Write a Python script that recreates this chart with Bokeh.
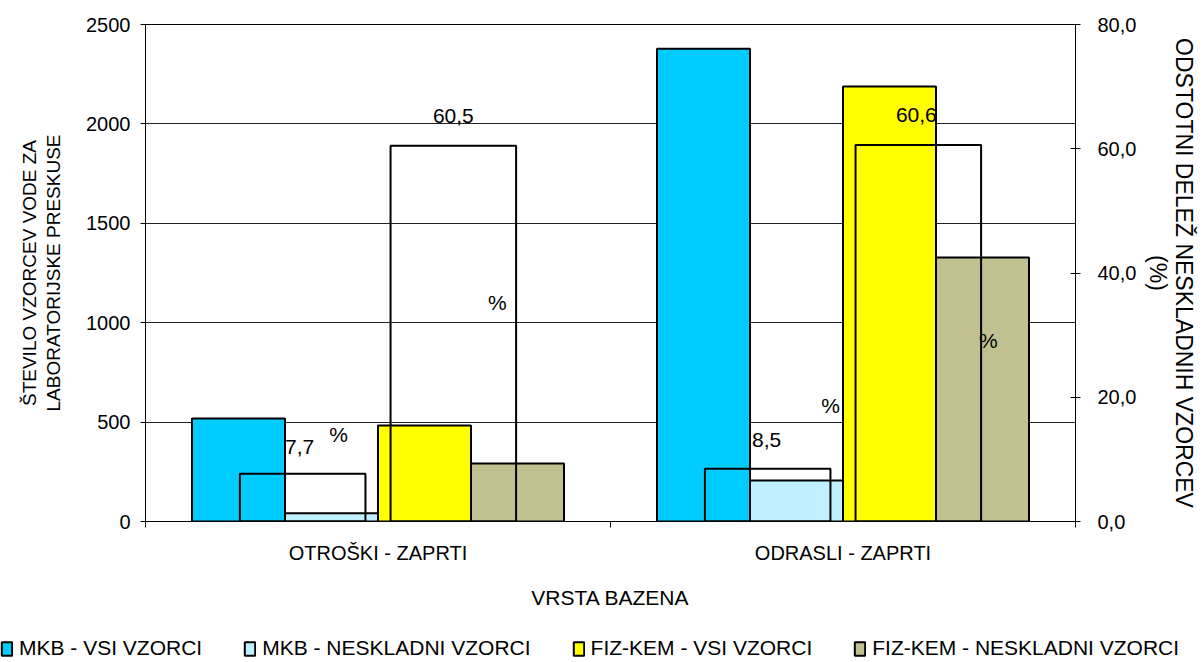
from bokeh.plotting import figure
from bokeh.models import Range1d, LinearAxis, FixedTicker, Legend, LegendItem
from bokeh.core.properties import value
from bokeh.embed import file_html
from bokeh.resources import INLINE

# ---------------- data ----------------
categories = ["OTROŠKI - ZAPRTI", "ODRASLI - ZAPRTI"]
mkb_all = [518, 2378]
mkb_bad = [42, 206]
fiz_all = [483, 2188]
fiz_bad = [292, 1328]
mkb_pct = [7.7, 8.5]
fiz_pct = [60.5, 60.6]
series_names = ["MKB - VSI VZORCI", "MKB - NESKLADNI VZORCI",
                "FIZ-KEM - VSI VZORCI", "FIZ-KEM - NESKLADNI VZORCI"]
left_ticks = [0, 500, 1000, 1500, 2000, 2500]
right_ticks = [0, 20, 40, 60, 80]
x_title = "VRSTA BAZENA"
left_title = "ŠTEVILO VZORCEV VODE ZA\nLABORATORIJSKE PRESKUSE"
right_title = "ODSTOTNI DELEŽ NESKLADNIH VZORCEV\n(%)"

# ---------------- style ----------------
FONT = "Liberation Sans"
colors = ["#00CCFF", "#C0F0FF", "#FFFF00", "#C0C090"]
bar_offsets = [-0.3, -0.1, 0.1, 0.3]
bar_width = 0.2
pct_offsets = [-0.162, 0.162]
pct_width = 0.27
# pixel offsets of the value labels and of the separate "%" labels (per series, per category)
val_label_dx = [[-3, -1], [0, -2]]
val_label_dy = [[-27, -29], [-30, -30]]
pc_label_dx = [[36, 63], [44, 70]]
pc_label_dy = [[-39, -63], [157, 195]]

n = len(categories)
W, H, LH = 1200, 636, 24
p = figure(width=W, height=H,
           x_range=Range1d(0, n), y_range=Range1d(left_ticks[0], left_ticks[-1]),
           output_backend="svg", toolbar_location=None,
           min_border_left=145, min_border_right=113,
           min_border_top=24, min_border_bottom=H - 24 - 497)
p.extra_y_ranges = {"pct": Range1d(right_ticks[0], right_ticks[-1])}
p.background_fill_color = "white"
p.border_fill_color = "white"
p.outline_line_color = "black"
p.outline_line_width = 1

# x axis
xa = p.xaxis[0]
xa.ticker = FixedTicker(ticks=[i + 0.5 for i in range(n)], minor_ticks=list(range(n + 1)))
xa.major_label_overrides = {i + 0.5: c for i, c in enumerate(categories)}
xa.major_tick_out = 0
xa.major_tick_in = 0
xa.minor_tick_out = 6
xa.minor_tick_in = 0
xa.minor_tick_line_color = "black"
xa.axis_line_color = "black"
xa.major_label_text_font = FONT
xa.major_label_text_font_size = "20px"
xa.major_label_text_color = "black"
xa.major_label_standoff = 14
xa.axis_label = x_title
xa.axis_label_text_font = FONT
xa.axis_label_text_font_size = "21px"
xa.axis_label_text_font_style = "normal"
xa.axis_label_text_color = "black"
xa.axis_label_standoff = 19

# left axis
ya = p.yaxis[0]
ya.ticker = FixedTicker(ticks=left_ticks, minor_ticks=[])
ya.major_tick_out = 5
ya.major_tick_in = 0
ya.major_tick_line_color = "black"
ya.axis_line_color = "black"
ya.major_label_text_font = FONT
ya.major_label_text_font_size = "20px"
ya.major_label_text_color = "black"
ya.major_label_standoff = 10
ya.axis_label = left_title
ya.axis_label_text_font = FONT
ya.axis_label_text_font_size = "19px"
ya.axis_label_text_font_style = "normal"
ya.axis_label_text_color = "black"
ya.axis_label_text_line_height = 1.15
ya.axis_label_standoff = 19

# right axis
ra = LinearAxis(y_range_name="pct",
                ticker=FixedTicker(ticks=right_ticks, minor_ticks=[]),
                major_label_overrides={t: f"{t:.1f}".replace(".", ",") for t in right_ticks})
ra.major_tick_out = 5
ra.major_tick_in = 5
ra.major_tick_line_color = "black"
ra.axis_line_color = "black"
ra.major_label_text_font = FONT
ra.major_label_text_font_size = "20px"
ra.major_label_text_color = "black"
ra.major_label_standoff = 17
ra.axis_label = right_title
ra.axis_label_text_font = FONT
ra.axis_label_text_font_size = "23px"
ra.axis_label_text_font_style = "normal"
ra.axis_label_text_color = "black"
ra.axis_label_text_line_height = 1.0
ra.axis_label_standoff = 6
p.add_layout(ra, "right")

# grid
p.xgrid.visible = False
p.ygrid.ticker = FixedTicker(ticks=left_ticks, minor_ticks=[])
p.ygrid.grid_line_color = "#222222"
p.ygrid.grid_line_width = 1

# count bars
vals = [mkb_all, mkb_bad, fiz_all, fiz_bad]
for k in range(4):
    xs = [i + 0.5 + bar_offsets[k] for i in range(n)]
    p.vbar(x=xs, top=vals[k], bottom=0, width=bar_width,
           fill_color=colors[k], line_color="black", line_width=2)

# percentage bars (outline only, secondary axis)
pcts = [mkb_pct, fiz_pct]
for k in range(2):
    xs = [i + 0.5 + pct_offsets[k] for i in range(n)]
    p.vbar(x=xs, top=pcts[k], bottom=0, width=pct_width, y_range_name="pct",
           fill_alpha=0, line_color="black", line_width=2)
    p.text(x=xs, y=pcts[k], y_range_name="pct",
           text=[f"{v:.1f}".replace(".", ",") for v in pcts[k]],
           x_offset=val_label_dx[k], y_offset=val_label_dy[k],
           text_align="center", text_baseline="middle",
           text_font=value(FONT), text_font_size="21px", text_color="black")
    p.text(x=xs, y=pcts[k], y_range_name="pct", text=["%"] * n,
           x_offset=pc_label_dx[k], y_offset=pc_label_dy[k],
           text_align="center", text_baseline="middle",
           text_font=value(FONT), text_font_size="21px", text_color="black")

# legend strip: a separate small figure below the chart (own root, so its frame spans the full width)
lg = figure(width=W, height=LH, x_axis_type=None, y_axis_type=None,
            x_range=Range1d(0, n), y_range=Range1d(left_ticks[0], left_ticks[-1]),
            output_backend="svg", toolbar_location=None,
            min_border=0, outline_line_color=None)
lg.xgrid.visible = False
lg.ygrid.visible = False
leg_renderers = []
for k in range(4):
    xs = [i + 0.5 + bar_offsets[k] for i in range(n)]
    r = lg.vbar(x=xs, top=vals[k], bottom=0, width=bar_width, fill_color=colors[k],
                line_color="black", line_width=2, visible=False)
    leg_renderers.append(r)
legend = Legend(items=[LegendItem(label=series_names[k], renderers=[leg_renderers[k]]) for k in range(4)],
                location="center_left", orientation="horizontal",
                glyph_width=13, glyph_height=17, label_standoff=6, spacing=41,
                padding=0, margin=0, border_line_color=None, background_fill_alpha=0,
                label_text_font=FONT, label_text_font_size="21px", label_text_color="black")
lg.add_layout(legend, "center")

open("out.html", "w").write(file_html([p, lg], INLINE))
